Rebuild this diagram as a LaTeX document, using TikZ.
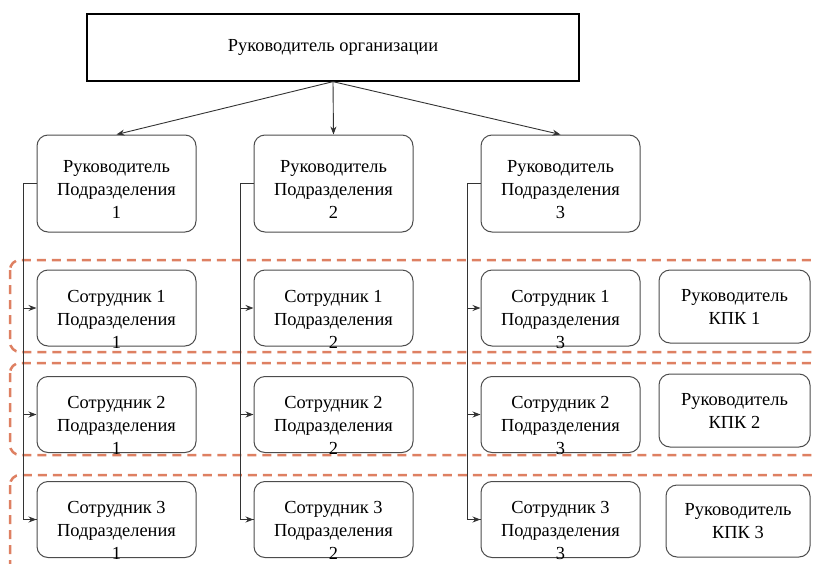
\documentclass[tikz,border=0pt]{standalone}
\usepackage{fontspec}
\setmainfont{Liberation Serif}
\usetikzlibrary{arrows.meta}

\begin{document}
\begin{tikzpicture}[x=1pt,y=-1pt,
	font=\fontsize{18.4}{23}\selectfont,
	topbox/.style={draw=black,line width=1.3pt,minimum width=492pt,minimum height=67pt},
	rbox/.style={draw=black!70,line width=1pt,rounded corners=11pt},
	headbox/.style={rbox,minimum width=159pt,minimum height=97pt},
	empbox/.style={rbox,minimum width=159pt,minimum height=76pt},
	kpkbox/.style={rbox,minimum width=151pt,minimum height=73pt,align=center},
	txt/.style={align=center,inner sep=0pt},
	link/.style={draw=black!80,line width=0.9pt},
	arr/.style={link,-{Stealth[length=8pt,width=6pt]}},
	band/.style={draw={rgb,255:red,222;green,128;blue,98},line width=2.5pt,dash pattern=on 9pt off 6pt,rounded corners=10pt}]
	\useasboundingbox (0,0) rectangle (815,563);
	\draw[band] (10,260) rectangle (840,352);
	\draw[band] (10,363) rectangle (840,455);
	\draw[band] (10,475) rectangle (840,590);
	\node[topbox] (org) at (333,47.5) {Руководитель организации};
	\foreach \c/\x in {1/116.5,2/333.5,3/560.5} {
		\node[headbox] (h\c) at (\x,183.5) {};
		\node[txt] (h\c t) at ([yshift=-6pt]h\c.center) {Руководитель\\Подразделения\\\c};
		\foreach \r/\y in {1/308,2/414.5,3/519.5} {
			\node[empbox] (e\r\c) at (\x,\y) {};
			\node[txt] (e\r\c t) at ([yshift=-11pt]e\r\c.center) {Сотрудник \r\\Подразделения\\\c};
			\draw[arr] ([xshift=-13pt]e\r\c.west) -- (e\r\c.west);
		}
		\draw[link] (h\c.west) -- ++(-13,0) |- (e3\c.west);
		\draw[arr] (org.south) -- (h\c.north);
	}
	\node[kpkbox] (k1) at (734.5,306.5) {Руководитель\\КПК 1};
	\node[kpkbox] (k2) at (734.5,410.5) {Руководитель\\КПК 2};
	\node[kpkbox,minimum width=144pt,minimum height=72pt] (k3) at (738,521) {Руководитель\\КПК 3};
\end{tikzpicture}
\end{document}
